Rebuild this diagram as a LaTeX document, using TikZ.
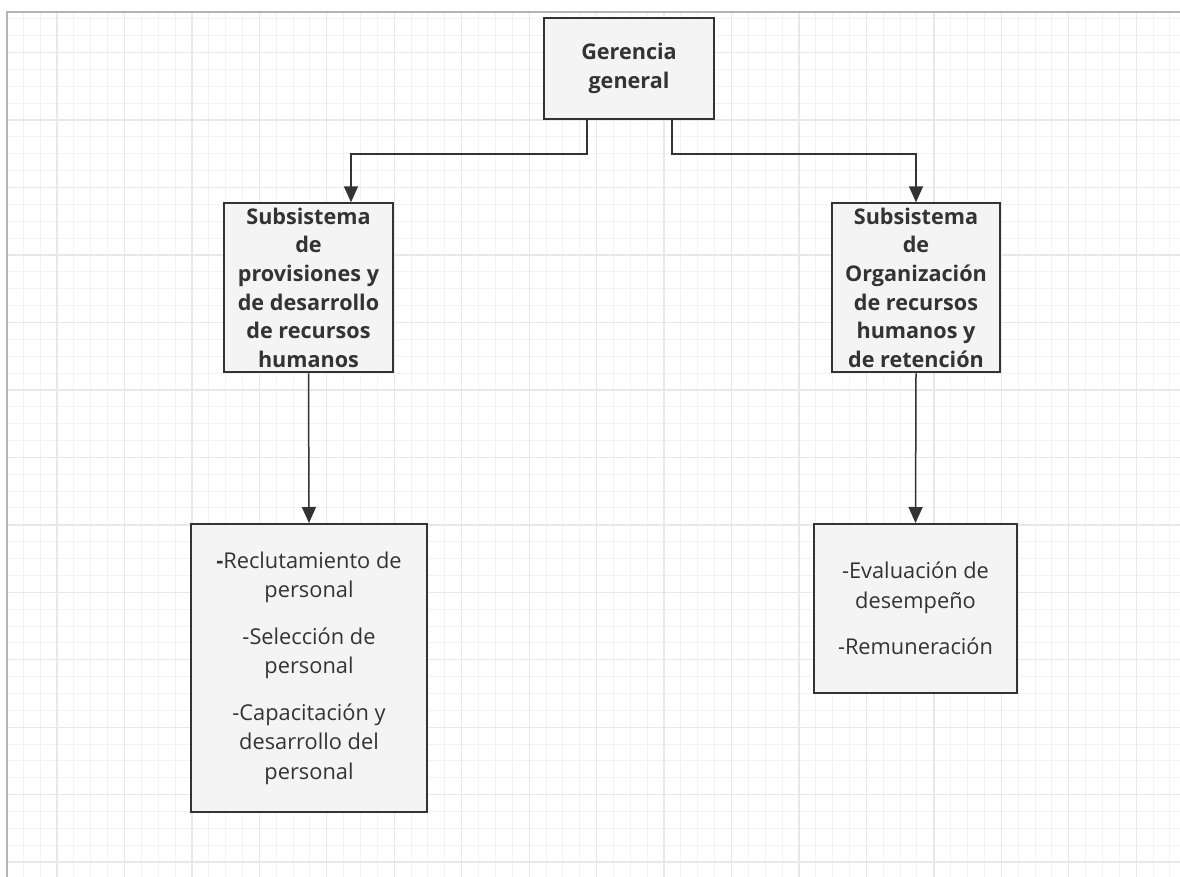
\documentclass[tikz,border=0pt]{standalone}
\usepackage{fontspec}
\setmainfont{Open Sans}
\usetikzlibrary{arrows.meta}
\definecolor{txt}{HTML}{333333}
\definecolor{boxline}{HTML}{333333}
\definecolor{boxfill}{HTML}{F4F4F4}
\definecolor{conn}{HTML}{333333}
\definecolor{gminor}{HTML}{F3F3F3}
\definecolor{gmajor}{HTML}{E8E8E8}
\definecolor{frame}{HTML}{B4B4B4}
\begin{document}
\begin{tikzpicture}[x=1pt,y=-1pt,
  box/.style={draw=boxline, line width=2pt, fill=boxfill, rectangle, inner sep=0pt},
  lbl/.style={align=center, text=txt, inner sep=0pt, font=\fontsize{21.8}{29.5}\selectfont},
  hlbl/.style={align=center, text=txt, inner sep=0pt, font=\fontsize{21.6}{28.7}\selectfont\bfseries},
  arr/.style={draw=conn, line width=1.5pt, -{Triangle[length=16pt,width=14pt]}},
  minorline/.style={draw=gminor, line width=1pt},
  majorline/.style={draw=gmajor, line width=1.3pt}]
\useasboundingbox (0,0) rectangle (1180,877);
\fill[white] (0,0) rectangle (1180,877);
% grid
\begin{scope}
\clip (7,12) rectangle (1180,877);
\foreach \i in {0,...,70} {\draw[minorline] ({6.4+\i*16.8625},12) -- ({6.4+\i*16.8625},877);}
\foreach \j in {0,...,52} {\draw[minorline] (7,{2.1+\j*16.8625}) -- (1180,{2.1+\j*16.8625});}
\foreach \i in {0,...,17} {\draw[majorline] ({57+\i*67.45},12) -- ({57+\i*67.45},877);}
\foreach \j in {0,...,12} {\draw[majorline] (7,{52.7+\j*67.45}) -- (1180,{52.7+\j*67.45});}
\end{scope}
\draw[frame, line width=1.5pt] (7,877) -- (7,12) -- (1180,12);
% boxes
\node[box, minimum width=170pt, minimum height=101pt] (g) at (629,68.7) {};
\node[hlbl] (gt) at (g) {Gerencia\\general};
\node[box, minimum width=169pt, minimum height=169pt] (p1) at (308.5,287.8) {};
\node[hlbl] (p1t) at (p1) {Subsistema\\de\\provisiones y\\de desarrollo\\de recursos\\humanos};
\node[box, minimum width=168pt, minimum height=169pt] (p2) at (916,287.8) {};
\node[hlbl] (p2t) at (p2) {Subsistema\\de\\Organización\\de recursos\\humanos y\\de retención};
\node[box, minimum width=236pt, minimum height=288pt] (b1) at (309,668) {};
\node[lbl] (b1t) at (b1) {\textbf{-}Reclutamiento de\\personal\\[17pt]-Selección de\\personal\\[17pt]-Capacitación y\\desarrollo del\\personal};
\node[box, minimum width=203pt, minimum height=169pt] (b2) at (915.5,608.5) {};
\node[lbl] (b2t) at (b2) {-Evaluación de\\desempeño\\[17pt]-Remuneración};
% connectors
\coordinate (p1in) at ([xshift=42.5pt]p1.north);
\draw[arr] ([xshift=-42pt]g.south) -- ++(0,34) -| (p1in);
\draw[arr] ([xshift=43pt]g.south) -- ++(0,34) -| (p2.north);
\draw[arr] (p1.south) -- (b1.north);
\draw[arr] (p2.south) -- (b2.north);
\end{tikzpicture}
\end{document}
